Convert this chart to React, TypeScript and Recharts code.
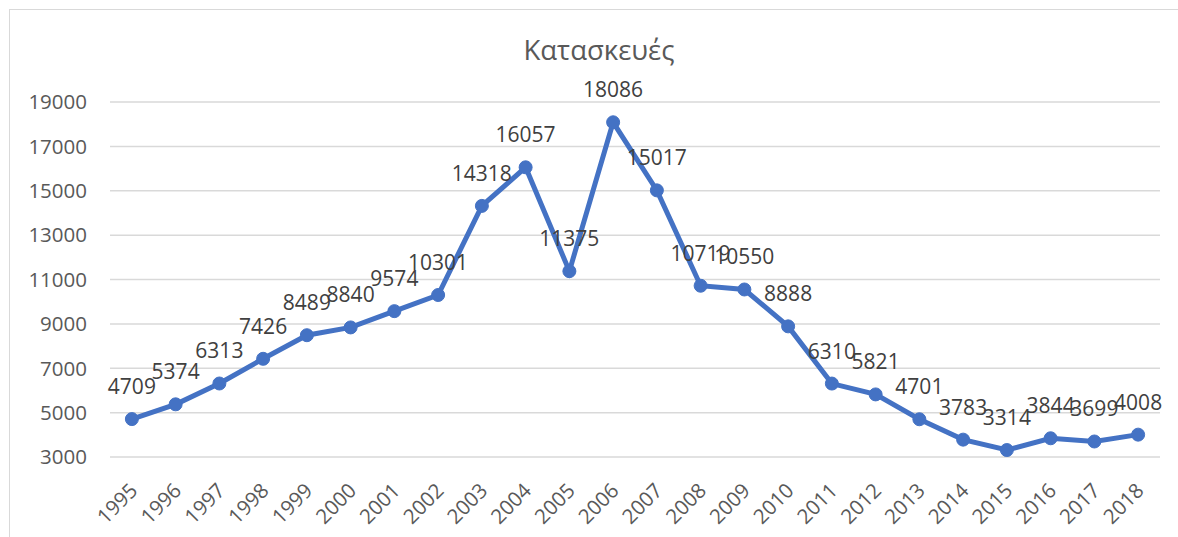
import React from "react";
import { LineChart, Line, XAxis, YAxis, CartesianGrid, LabelList } from "recharts";

const years = ["1995","1996","1997","1998","1999","2000","2001","2002","2003","2004","2005","2006","2007","2008","2009","2010","2011","2012","2013","2014","2015","2016","2017","2018"];
const values = [4709,5374,6313,7426,8489,8840,9574,10301,14318,16057,11375,18086,15017,10719,10550,8888,6310,5821,4701,3783,3314,3844,3699,4008];
const yTicks = [3000,5000,7000,9000,11000,13000,15000,17000,19000];
const title = "Κατασκευές";

const data = years.map((y, i) => ({ year: y, value: values[i] }));

const FONT = "'Open Sans', 'Liberation Sans', sans-serif";

const XTick = (props: any) => {
  const { x, y, payload } = props;
  const ax = x + 7;
  const ay = y + 27;
  return (
    <text x={ax} y={ay} textAnchor="end" fill="#595959" fontSize={20.5} fontFamily={FONT} transform={`rotate(-45, ${ax}, ${ay})`}>
      {payload.value}
    </text>
  );
};

export default function App() {
  return (
    <div style={{ position: "absolute", left: 0, top: 0, width: 1178, height: 537, background: "#fff", overflow: "hidden" }}>
      <div style={{ position: "absolute", left: 9, top: 9, width: 1200, height: 560, borderLeft: "1.5px solid #d9d9d9", borderTop: "1.5px solid #d9d9d9" }} />
      <div style={{ position: "absolute", left: 10, width: 1178, top: 31, textAlign: "center", fontFamily: FONT, fontSize: 27.5, color: "#595959", lineHeight: "38px" }}>
        {title}
      </div>
      <div style={{ position: "absolute", left: 0, top: 0 }}>
        <LineChart width={1178} height={537} data={data} margin={{ top: 102, right: 18, bottom: 0, left: 10 }}>
          <CartesianGrid vertical={false} stroke="#d9d9d9" strokeWidth={1.5} />
          <XAxis dataKey="year" axisLine={false} tickLine={false} height={80} padding={{ left: 21.875, right: 21.875 }} tick={<XTick />} interval={0} />
          <YAxis domain={[3000, 19000]} ticks={yTicks} axisLine={false} tickLine={false} width={100} tickSize={0} tickMargin={23} tick={{ fill: "#595959", fontSize: 20.5, fontFamily: FONT }} interval={0} />
          <Line type="linear" dataKey="value" stroke="#4472C4" strokeWidth={5} isAnimationActive={false}
            dot={{ r: 6.5, fill: "#4472C4", stroke: "#4472C4", strokeWidth: 1 }} activeDot={false}>
            <LabelList dataKey="value" position="top" offset={25} fill="#404040" fontSize={21} fontFamily={FONT} />
          </Line>
        </LineChart>
      </div>
    </div>
  );
}
